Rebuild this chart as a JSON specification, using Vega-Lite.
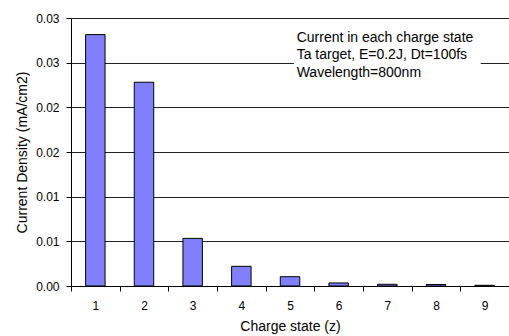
{
  "$schema": "https://vega.github.io/schema/vega-lite/v6.json",
  "width": 438,
  "height": 268,
  "autosize": {"type": "none"},
  "padding": {"left": 71, "top": 18, "right": 0, "bottom": 50},
  "background": "white",
  "config": {
    "view": {"stroke": null},
    "font": "Liberation Sans",
    "axis": {"labelFont": "Liberation Sans", "titleFont": "Liberation Sans", "labelColor": "#000", "titleColor": "#000", "titleFontWeight": "normal"}
  },
  "layer": [
    {
      "data": {"values": [
        {"z": 1, "density": 0.02814},
        {"z": 2, "density": 0.02281},
        {"z": 3, "density": 0.00533},
        {"z": 4, "density": 0.0022},
        {"z": 5, "density": 0.00104},
        {"z": 6, "density": 0.00034},
        {"z": 7, "density": 0.00019},
        {"z": 8, "density": 0.00017},
        {"z": 9, "density": 0.00008}
      ]},
      "mark": {"type": "bar", "fill": "#8080FF", "stroke": "#000", "strokeWidth": 1},
      "encoding": {
        "x": {
          "field": "z", "type": "ordinal",
          "scale": {"paddingInner": 0.6, "paddingOuter": 0.3},
          "axis": {"title": "Charge state (z)", "labelAngle": 0, "labelFontSize": 12, "titleFontSize": 14, "tickOffset": -24.33, "labelOffset": 24.33, "tickSize": 5, "tickColor": "#000", "domainColor": "#000", "labelPadding": 9, "titlePadding": 8}
        },
        "y": {
          "field": "density", "type": "quantitative",
          "scale": {"domain": [0, 0.03], "nice": false},
          "axis": {"title": "Current Density (mA/cm2)", "values": [0, 0.005, 0.01, 0.015, 0.02, 0.025, 0.03], "labelExpr": "format(datum.value + 1e-9, '.2f')", "labelFontSize": 12, "titleFontSize": 14, "grid": true, "gridColor": "#222", "tickColor": "#000", "domainColor": "#000", "tickSize": 5, "labelPadding": 7, "titlePadding": 6}
        }
      }
    },
    {
      "data": {"values": [{"note": "box"}]},
      "mark": {"type": "rect", "fill": "white", "stroke": null},
      "encoding": {
        "x": {"datum": 4.58, "type": "quantitative", "scale": {"domain": [0, 9], "nice": false}, "axis": null},
        "x2": {"datum": 8.42},
        "y": {"datum": 0.0292, "type": "quantitative"},
        "y2": {"datum": 0.0229}
      }
    },
    {
      "data": {"values": [{"note": "text"}]},
      "mark": {"type": "text", "align": "left", "baseline": "middle", "fontSize": 14, "fontWeight": "normal", "lineHeight": 17.6, "font": "Liberation Sans", "color": "#000"},
      "encoding": {
        "x": {"datum": 4.637, "type": "quantitative", "scale": {"domain": [0, 9], "nice": false}, "axis": null},
        "y": {"datum": 0.0278, "type": "quantitative"},
        "text": {"value": ["Current in each charge state", "Ta target, E=0.2J, Dt=100fs", "Wavelength=800nm"]}
      }
    }
  ],
  "resolve": {"scale": {"x": "independent"}, "axis": {"x": "independent"}}
}
